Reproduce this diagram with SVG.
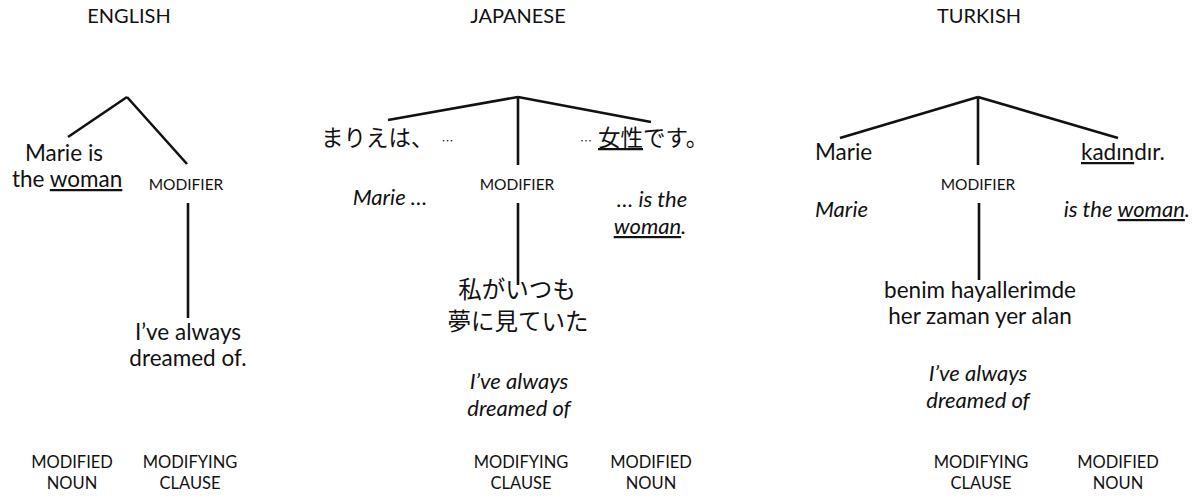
<svg xmlns="http://www.w3.org/2000/svg" width="1200" height="504" viewBox="0 0 1200 504">
<style>
text{font-family:Lato,"Noto Sans CJK JP",sans-serif;fill:#111}
.t{font-size:20px}
.m{font-size:22.5px}
.s{font-size:15.5px}
.b{font-size:16.5px}
.i{font-size:22px;font-style:italic}
.j{font-family:"Noto Sans CJK JP",sans-serif;font-size:22.5px}
.jc{font-family:"Noto Sans CJK JP",sans-serif;font-size:23.5px}
.c{text-anchor:middle}
.u{text-decoration:underline}
line{stroke:#111;stroke-width:2.6}
</style>
<rect width="1200" height="504" fill="#fff"/>
<g id="titles">
<text class="t c" x="129" y="23">ENGLISH</text>
<text class="t c" x="518" y="23">JAPANESE</text>
<text class="t c" x="979" y="23">TURKISH</text>
</g>
<g id="connectors">
<line x1="127" y1="97" x2="68" y2="137"/>
<line x1="127" y1="97" x2="187" y2="164"/>
<line x1="188" y1="203" x2="188" y2="318"/>
<line x1="518" y1="97" x2="388" y2="120"/>
<line x1="518" y1="97" x2="651" y2="122"/>
<line x1="518" y1="97" x2="518" y2="165"/>
<line x1="518" y1="203" x2="518" y2="285"/>
<line x1="978" y1="97" x2="840" y2="138"/>
<line x1="978" y1="97" x2="1118" y2="138"/>
<line x1="978" y1="97" x2="978" y2="165"/>
<line x1="979" y1="203" x2="979" y2="280"/>
</g>
<g id="en-noun">
<text class="m c" x="64" y="161">Marie is</text>
<text class="m" x="12" y="187">the <tspan class="u">woman</tspan></text>
</g>
<g id="en-modifier"><text class="s c" x="186" y="190">MODIFIER</text></g>
<g id="en-clause">
<text class="m c" x="188" y="340">I’ve always</text>
<text class="m c" x="188" y="366">dreamed of.</text>
</g>
<g id="en-labels">
<text class="b c" x="72" y="468">MODIFIED</text>
<text class="b c" x="72" y="489">NOUN</text>
<text class="b c" x="190" y="468">MODIFYING</text>
<text class="b c" x="190" y="489">CLAUSE</text>
</g>
<g id="ja-left">
<text class="j" x="321" y="146">まりえは、<tspan style="font-size:12px" dx="8">…</tspan></text>
<text class="i c" x="390" y="205">Marie …</text>
</g>
<g id="ja-right">
<text class="j" x="580" y="146"><tspan style="font-size:12px">…</tspan><tspan dx="6" class="u">女性</tspan>です。</text>
<text class="i c" x="652" y="207">… is the</text>
<text class="i c" x="650" y="234"><tspan class="u">woman</tspan>.</text>
</g>
<g id="ja-modifier"><text class="s c" x="517" y="190">MODIFIER</text></g>
<g id="ja-clause">
<text class="jc c" x="517" y="298">私がいつも</text>
<text class="jc c" x="518" y="330">夢に見ていた</text>
<text class="i c" x="519" y="389">I’ve always</text>
<text class="i c" x="519" y="416">dreamed of</text>
</g>
<g id="ja-labels">
<text class="b c" x="521" y="468">MODIFYING</text>
<text class="b c" x="521" y="489">CLAUSE</text>
<text class="b c" x="651" y="468">MODIFIED</text>
<text class="b c" x="651" y="489">NOUN</text>
</g>
<g id="tr-left">
<text class="m" x="815" y="160">Marie</text>
<text class="i" x="815" y="217">Marie</text>
</g>
<g id="tr-right">
<text class="m" x="1081" y="160"><tspan class="u">kadın</tspan>dır.</text>
<text class="i" x="1190" y="217" text-anchor="end">is the <tspan class="u">woman</tspan>.</text>
</g>
<g id="tr-modifier"><text class="s c" x="978" y="190">MODIFIER</text></g>
<g id="tr-clause">
<text class="m c" x="980" y="298">benim hayallerimde</text>
<text class="m c" x="980" y="324">her zaman yer alan</text>
<text class="i c" x="978" y="381">I’ve always</text>
<text class="i c" x="978" y="408">dreamed of</text>
</g>
<g id="tr-labels">
<text class="b c" x="981" y="468">MODIFYING</text>
<text class="b c" x="981" y="489">CLAUSE</text>
<text class="b c" x="1118" y="468">MODIFIED</text>
<text class="b c" x="1118" y="489">NOUN</text>
</g>
</svg>
